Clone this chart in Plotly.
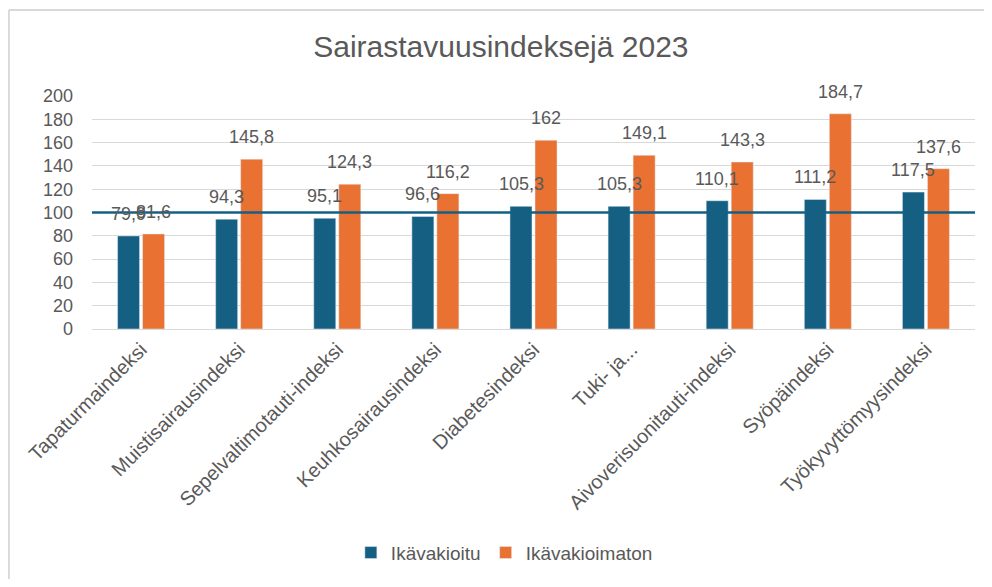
import plotly.graph_objects as go

categories = ["Tapaturmaindeksi", "Muistisairausindeksi", "Sepelvaltimotauti-indeksi",
              "Keuhkosairausindeksi", "Diabetesindeksi", "Tuki- ja...",
              "Aivoverisuonitauti-indeksi", "Syöpäindeksi", "Työkyvyttömyysindeksi"]
ikavakioitu = [79.9, 94.3, 95.1, 96.6, 105.3, 105.3, 110.1, 111.2, 117.5]
ikavakioimaton = [81.6, 145.8, 124.3, 116.2, 162, 149.1, 143.3, 184.7, 137.6]
reference_level = 100

BLUE = "#156082"
ORANGE = "#E97132"
GREY_TEXT = "#595959"
FONT = "Liberation Sans"


def fi(v):
    return f"{v:g}".replace(".", ",")


fig = go.Figure()
fig.add_trace(go.Bar(name="Ikävakioitu", x=categories, y=ikavakioitu, marker_color=BLUE))
fig.add_trace(go.Bar(name="Ikävakioimaton", x=categories, y=ikavakioimaton, marker_color=ORANGE))

# data labels, Excel puts them a bit above the bars
for vals, shift in [(ikavakioitu, -12.5), (ikavakioimaton, 12.5)]:
    for c, v in zip(categories, vals):
        fig.add_annotation(x=c, y=v, text=fi(v), showarrow=False, xshift=shift, yshift=22,
                           font=dict(family=FONT, size=18, color=GREY_TEXT))

fig.add_hline(y=reference_level, line=dict(color=BLUE, width=2.5), layer="above")

# chart border, only the top and left edge are visible in the crop
border = dict(color="#d9d9d9", width=2)
fig.add_shape(type="line", xref="paper", yref="paper", x0=-0.0941, x1=-0.0941, y0=-1.1, y1=1.369, line=border)
fig.add_shape(type="line", xref="paper", yref="paper", x0=-0.0941, x1=1.02, y0=1.369, y1=1.369, line=border)

# page body has an 8px margin, so the figure is smaller than the window (no scrollbars)
fig.update_layout(
    title=dict(text="Sairastavuusindeksejä 2023", x=0.505, xanchor="center", y=0.932, yanchor="middle",
               font=dict(family=FONT, size=30, color=GREY_TEXT)),
    width=976, height=571,
    margin=dict(l=84, r=9, t=88, b=250, autoexpand=False),
    barmode="group", bargap=0.49, bargroupgap=0.12,
    plot_bgcolor="white", paper_bgcolor="white",
    font=dict(family=FONT, color=GREY_TEXT),
    legend=dict(orientation="h", x=0.467, xanchor="center", y=-0.96, yanchor="middle",
                font=dict(family=FONT, size=19, color=GREY_TEXT)),
)
fig.update_yaxes(range=[0, 200], dtick=20, gridcolor="#d9d9d9", gridwidth=1, zeroline=False,
                 tickfont=dict(size=18), ticklabelstandoff=18)
fig.update_xaxes(tickangle=-45, tickfont=dict(size=20), showline=True, linecolor="#d9d9d9")

fig.write_html("out.html")
